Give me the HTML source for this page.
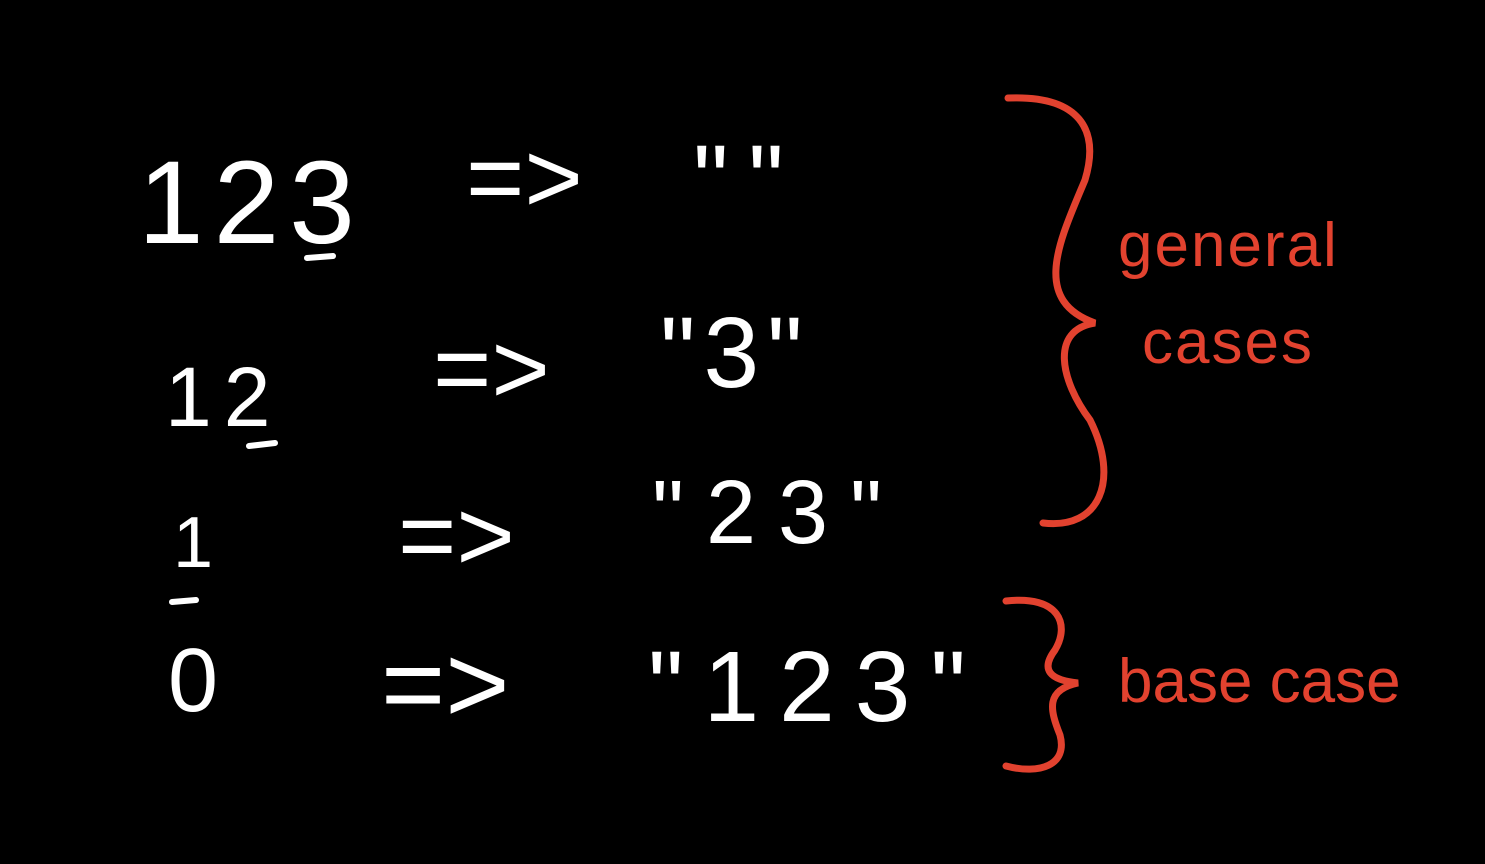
<!DOCTYPE html>
<html><head><meta charset="utf-8"><style>
html,body{margin:0;padding:0;background:#000;}
svg{display:block}
text{font-family:"Liberation Sans",sans-serif;}
.w{fill:#fff}
.r{fill:#e2422f}
</style></head><body>
<svg width="1485" height="864" viewBox="0 0 1485 864">
<rect width="1485" height="864" fill="#000"/>
<g>
<text class="w" x="138" y="243" font-size="118" letter-spacing="10">123</text>
<line x1="307" y1="258" x2="333" y2="256" stroke="#fff" stroke-width="6" stroke-linecap="round"/>
<text class="w" x="466" y="212" font-size="100">=&gt;</text>
<text class="w" x="693" y="215" font-size="100" letter-spacing="-4">" "</text>
</g>
<g>
<text class="w" x="165" y="426" font-size="84" letter-spacing="12">12</text>
<line x1="249" y1="446" x2="275" y2="443" stroke="#fff" stroke-width="6" stroke-linecap="round"/>
<text class="w" x="433" y="403" font-size="100">=&gt;</text>
<text class="w" x="660" y="387" font-size="100" letter-spacing="8">"3"</text>
</g>
<g>
<text class="w" x="173" y="567" font-size="72">1</text>
<line x1="172" y1="602" x2="196" y2="600" stroke="#fff" stroke-width="6" stroke-linecap="round"/>
<text class="w" x="398" y="570" font-size="100">=&gt;</text>
<text class="w" x="652" y="543" font-size="90" letter-spacing="22">"23"</text>
</g>
<g>
<text class="w" x="168" y="711" font-size="90">0</text>
<text class="w" x="381" y="722" font-size="110">=&gt;</text>
<text class="w" x="648" y="721" font-size="100" letter-spacing="20">"123"</text>
</g>
<path d="M1008,98 C1080,95 1100,130 1085,180 C1060,240 1030,300 1095,323 C1050,330 1060,380 1090,420 C1120,480 1100,530 1043,523" fill="none" stroke="#e2422f" stroke-width="7" stroke-linecap="round"/>
<text class="r" x="1118" y="266" font-size="62" letter-spacing="2">general</text>
<text class="r" x="1142" y="363" font-size="62" letter-spacing="2">cases</text>
<path d="M1006,601 C1060,595 1070,625 1055,650 C1040,670 1050,680 1078,683 C1045,690 1050,710 1060,735 C1068,765 1040,775 1006,766" fill="none" stroke="#e2422f" stroke-width="7" stroke-linecap="round"/>
<text class="r" x="1118" y="702" font-size="62" letter-spacing="0">base case</text>
</svg>
</body></html>
